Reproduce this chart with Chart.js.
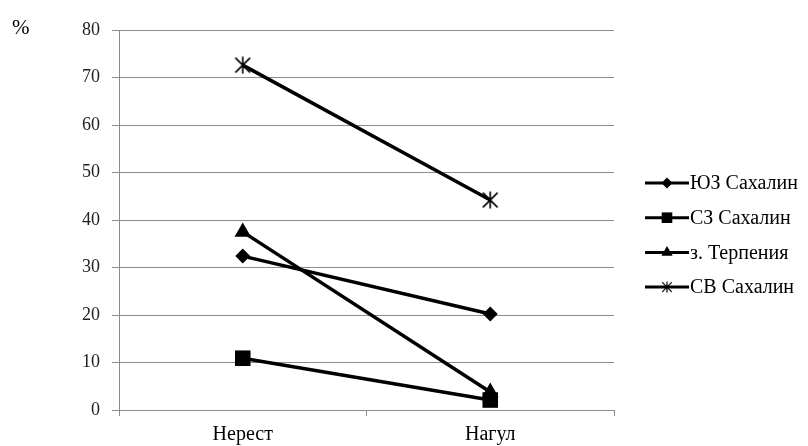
<!DOCTYPE html>
<html>
<head>
<meta charset="utf-8">
<script src="https://cdn.jsdelivr.net/npm/chart.js@4/dist/chart.umd.min.js"></script>
<style>
  html, body { margin: 0; padding: 0; background: #fff; }
  #wrap { width: 808px; height: 446px; position: relative; }
</style>
</head>
<body>
<div id="wrap"><canvas id="chart"></canvas></div>
<script>
const categories = ['Нерест', 'Нагул'];
const seriesNames = ['ЮЗ Сахалин', 'СЗ Сахалин', 'з. Терпения', 'СВ Сахалин'];
const yzSakhalin = [32.4, 20.2];
const szSakhalin = [10.9, 2.1];
const terpenia = [37.5, 3.8];
const svSakhalin = [72.6, 44.2];
const yMin = 0, yMax = 80, yStep = 10;
const unitLabel = '%';

const FONT = "'Liberation Serif', 'Times New Roman', serif";

// Excel-like star marker: X with a vertical bar
function makeStar(size, lw) {
    const c = document.createElement('canvas');
    c.width = size; c.height = size;
    const g = c.getContext('2d');
    g.strokeStyle = '#000';
    g.lineWidth = lw;
    const p = lw;
    g.beginPath();
    g.moveTo(p, p); g.lineTo(size - p, size - p);
    g.moveTo(size - p, p); g.lineTo(p, size - p);
    g.moveTo(size / 2, 0.5); g.lineTo(size / 2, size - 0.5);
    g.stroke();
    return c;
}
const starBig = makeStar(18, 1.6);
const starSmall = makeStar(12, 1.2);

const styles = [
    { pointStyle: 'rectRot', radius: 7.5, legend: 'rectRot', legendRadius: 5.5 },
    { pointStyle: 'rect', radius: 11, legend: 'rect', legendRadius: 7.5 },
    { pointStyle: 'triangle', radius: 9.5, legend: 'triangle', legendRadius: 6.5 },
    { pointStyle: starBig, radius: 9, legend: starSmall, legendRadius: 6 }
];
const values = [yzSakhalin, szSakhalin, terpenia, svSakhalin];

const datasets = seriesNames.map((name, i) => ({
    label: name,
    data: values[i],
    borderColor: '#000',
    backgroundColor: '#000',
    borderWidth: 3.5,
    pointStyle: styles[i].pointStyle,
    pointRadius: styles[i].radius,
    pointBorderWidth: 0,
    pointBackgroundColor: '#000',
    tension: 0
}));

const extraText = {
    id: 'extraText',
    afterDraw(chart) {
        const ctx = chart.ctx;
        ctx.save();
        // unit label
        ctx.fillStyle = '#000';
        ctx.font = '21px ' + FONT;
        ctx.textAlign = 'left';
        ctx.textBaseline = 'middle';
        ctx.fillText(unitLabel, 12, 28);

        // legend: line with marker
        const x0 = 645, x1 = 689, yStart = 183, yGap = 34.7;
        ctx.font = '20px ' + FONT;
        chart.data.datasets.forEach((ds, i) => {
            const y = yStart + i * yGap;
            ctx.strokeStyle = '#000';
            ctx.lineWidth = 3;
            ctx.beginPath();
            ctx.moveTo(x0, y);
            ctx.lineTo(x1, y);
            ctx.stroke();
            ctx.fillStyle = '#000';
            Chart.helpers.drawPoint(ctx, {
                pointStyle: styles[i].legend,
                radius: styles[i].legendRadius,
                rotation: 0,
                borderWidth: 0
            }, (x0 + x1) / 2, y);
            ctx.fillStyle = '#000';
            ctx.fillText(ds.label, x1 + 1, y + 1);
        });
        ctx.restore();
    }
};

new Chart(document.getElementById('chart'), {
    type: 'line',
    data: { labels: categories, datasets: datasets },
    options: {
        responsive: true,
        maintainAspectRatio: false,
        animation: false,
        layout: { padding: { top: 30, right: 194, bottom: 0, left: 0 } },
        plugins: {
            legend: { display: false },
            tooltip: { enabled: false }
        },
        scales: {
            x: {
                offset: true,
                grid: {
                    offset: true,
                    drawOnChartArea: false,
                    drawTicks: true,
                    tickLength: 6,
                    color: '#8c8c8c'
                },
                border: { color: '#8c8c8c' },
                ticks: {
                    color: '#000',
                    font: { family: FONT, size: 20 },
                    padding: 7,
                    maxRotation: 0
                },
                afterFit(scale) { scale.height = 36; }
            },
            y: {
                min: yMin,
                max: yMax,
                grid: {
                    color: '#8c8c8c',
                    tickLength: 7,
                    drawTicks: true
                },
                border: { color: '#8c8c8c' },
                ticks: {
                    stepSize: yStep,
                    color: '#222',
                    font: { family: FONT, size: 18 },
                    padding: 12
                },
                afterFit(scale) { scale.width = 119; }
            }
        }
    },
    plugins: [extraText]
});
</script>
</body>
</html>
